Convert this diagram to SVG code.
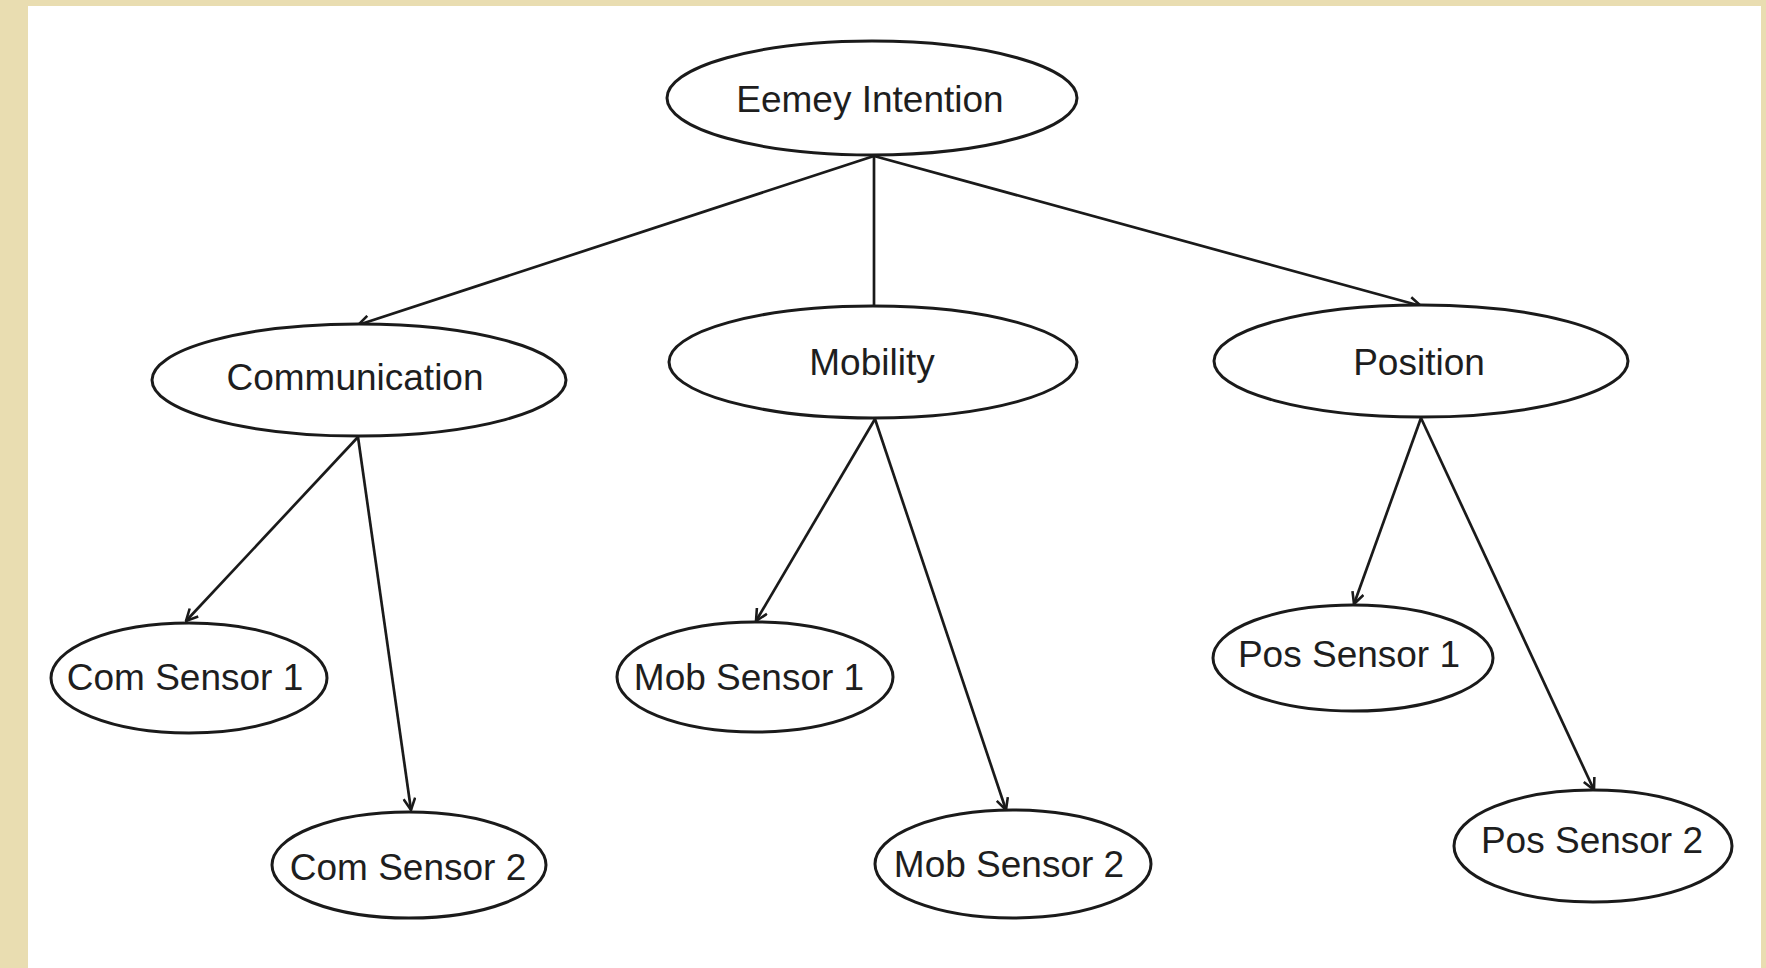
<svg xmlns="http://www.w3.org/2000/svg" width="1766" height="968" viewBox="0 0 1766 968">
<style>
.node ellipse{fill:#ffffff;stroke:#1a1a1a;stroke-width:3}
.node text{font-family:"Liberation Sans",Arial,sans-serif;font-size:37px;fill:#1e1e1e;text-anchor:middle}
.edge{stroke:#1a1a1a;stroke-width:2.7;fill:none}
</style>
<defs>
<marker id="arr" markerUnits="userSpaceOnUse" markerWidth="14" markerHeight="14" viewBox="0 0 12 12" refX="11" refY="6" orient="auto">
<path d="M1,1 L11,6 L1,11" fill="none" stroke="#1a1a1a" stroke-width="2.2"/>
</marker>
</defs>
<rect x="0" y="0" width="1766" height="968" fill="#e9ddb1"/>
<rect x="28" y="6" width="1733" height="962" fill="#ffffff"/>
<g id="connectors">
<line class="edge" x1="874" y1="156" x2="358" y2="325" marker-end="url(#arr)"/>
<line class="edge" x1="874" y1="156" x2="874" y2="306"/>
<line class="edge" x1="874" y1="156" x2="1421" y2="306" marker-end="url(#arr)"/>
<line class="edge" x1="358" y1="437" x2="186" y2="621" marker-end="url(#arr)"/>
<line class="edge" x1="358" y1="437" x2="411" y2="810" marker-end="url(#arr)"/>
<line class="edge" x1="875" y1="419" x2="756" y2="621" marker-end="url(#arr)"/>
<line class="edge" x1="875" y1="419" x2="1006" y2="810" marker-end="url(#arr)"/>
<line class="edge" x1="1421" y1="418" x2="1354" y2="604" marker-end="url(#arr)"/>
<line class="edge" x1="1421" y1="418" x2="1594" y2="790" marker-end="url(#arr)"/>
</g>
<g id="node-enemy-intention" class="node">
<ellipse cx="872" cy="98" rx="205" ry="57"/>
<text x="870" y="112">Eemey Intention</text>
</g>
<g id="node-communication" class="node">
<ellipse cx="359" cy="380" rx="207" ry="56"/>
<text x="355" y="390">Communication</text>
</g>
<g id="node-mobility" class="node">
<ellipse cx="873" cy="362" rx="204" ry="56"/>
<text x="872" y="375">Mobility</text>
</g>
<g id="node-position" class="node">
<ellipse cx="1421" cy="361" rx="207" ry="56"/>
<text x="1419" y="375">Position</text>
</g>
<g id="node-com-sensor-1" class="node">
<ellipse cx="189" cy="678" rx="138" ry="55"/>
<text x="185" y="690">Com Sensor 1</text>
</g>
<g id="node-com-sensor-2" class="node">
<ellipse cx="409" cy="865" rx="137" ry="53"/>
<text x="408" y="880">Com Sensor 2</text>
</g>
<g id="node-mob-sensor-1" class="node">
<ellipse cx="755" cy="677" rx="138" ry="55"/>
<text x="749" y="690">Mob Sensor 1</text>
</g>
<g id="node-mob-sensor-2" class="node">
<ellipse cx="1013" cy="864" rx="138" ry="54"/>
<text x="1009" y="877">Mob Sensor 2</text>
</g>
<g id="node-pos-sensor-1" class="node">
<ellipse cx="1353" cy="658" rx="140" ry="53"/>
<text x="1349" y="667">Pos Sensor 1</text>
</g>
<g id="node-pos-sensor-2" class="node">
<ellipse cx="1593" cy="846" rx="139" ry="56"/>
<text x="1592" y="853">Pos Sensor 2</text>
</g>
</svg>
